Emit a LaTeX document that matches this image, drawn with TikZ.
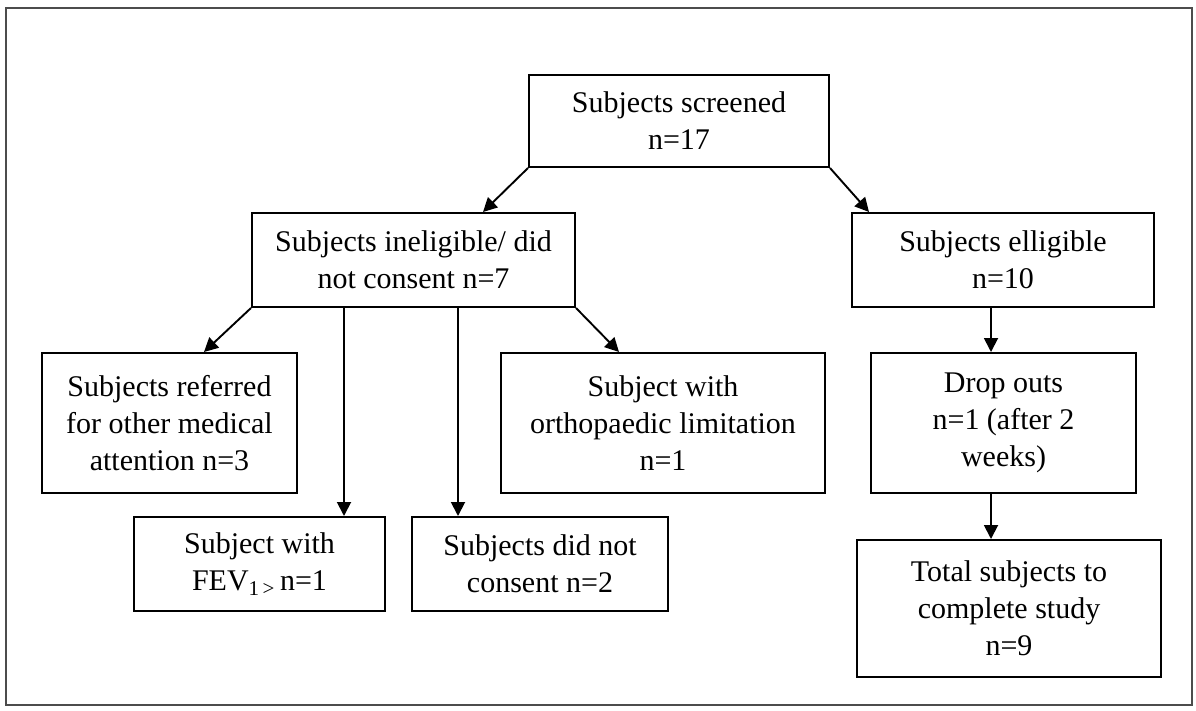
\documentclass[tikz,border=0pt]{standalone}
\usepackage{fontspec}
\setmainfont{Liberation Serif}
\usetikzlibrary{arrows.meta,calc}
\begin{document}
\begin{tikzpicture}[x=1pt,y=-1pt,
  box/.style={draw=black,line width=2pt,rectangle,align=center,inner sep=0pt,
    font=\fontsize{30}{37}\selectfont},
  arr/.style={line width=1.9pt,-{Triangle[length=14pt,width=14pt]}},
  frame/.style={draw=black!70,line width=2pt}]
\useasboundingbox (0,0) rectangle (1196,711);
\draw[frame] (6,8) rectangle (1192,705);
% boxes (center x, center y, width, height)
\node[box,minimum width=300pt,minimum height=92pt] (scr) at (679,121) {Subjects screened\\n=17};
\node[box,minimum width=323pt,minimum height=94pt] (inel) at (413.5,260) {Subjects ineligible/ did\\not consent n=7};
\node[box,minimum width=302pt,minimum height=94pt] (elig) at (1003,260) {Subjects elligible\\n=10};
\node[box,minimum width=255pt,minimum height=140pt] (ref) at (169.5,423) {Subjects referred\\for other medical\\attention n=3};
\node[box,minimum width=324pt,minimum height=140pt] (orth) at (663,423) {Subject with\\orthopaedic limitation\\n=1};
\node[box,minimum width=265pt,minimum height=140pt] (drop) at (1003.5,423) {Drop outs\\n=1 (after 2\\weeks)};
\node[box,minimum width=251pt,minimum height=94pt] (fev) at (259.5,564) {Subject with\\FEV\textsubscript{1\,>}\,n=1};
\node[box,minimum width=256pt,minimum height=94pt] (dnc) at (540,564) {Subjects did not\\consent n=2};
\node[box,minimum width=304pt,minimum height=137pt] (tot) at (1009,608.5) {Total subjects to\\complete study\\n=9};
% connectors
\draw[arr] (scr.south west) -- ([xshift=232pt]inel.north west);
\draw[arr] (scr.south east) -- ([xshift=18pt]elig.north west);
\draw[arr] (inel.south west) -- ([xshift=163pt]ref.north west);
\draw[arr] (inel.south east) -- ([xshift=119pt]orth.north west);
\coordinate (a1) at ([xshift=93pt]inel.south west);
\coordinate (a2) at ([xshift=207pt]inel.south west);
\draw[arr] (a1) -- (a1 |- fev.north);
\draw[arr] (a2) -- (a2 |- dnc.north);
\coordinate (b1) at ([xshift=140pt]elig.south west);
\draw[arr] (b1) -- (b1 |- drop.north);
\coordinate (b2) at (b1 |- drop.south);
\draw[arr] (b2) -- (b2 |- tot.north);
\end{tikzpicture}
\end{document}
